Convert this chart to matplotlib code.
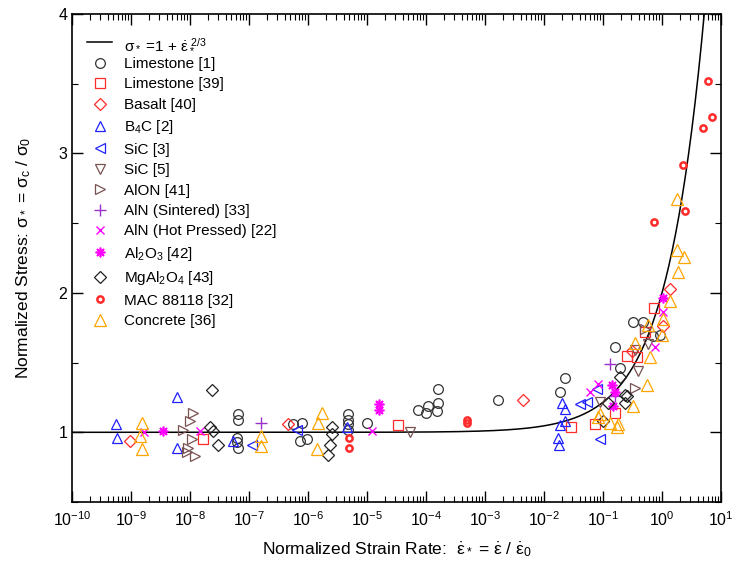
import numpy as np
import matplotlib
matplotlib.use("Agg")
import matplotlib.pyplot as plt
from matplotlib.ticker import LogLocator, NullFormatter, MultipleLocator

plt.rcParams["font.family"] = ["Liberation Sans", "DejaVu Sans"]
plt.rcParams["mathtext.fontset"] = "custom"
plt.rcParams["mathtext.rm"] = "Liberation Sans"
plt.rcParams["mathtext.it"] = "Liberation Sans"
plt.rcParams["mathtext.bf"] = "Liberation Sans:bold"

# data: log10 of normalized strain rate, normalized stress
limestone1_logx = [-7.19, -7.19, -7.20, -7.20, -7.19, -6.25, -6.10, -6.14, -6.02, -5.32, -5.32,
                   -5.32, -5.32, -5.0, -3.80, -3.80, -4.14, -3.97, -4.0, -3.81, -2.78, -1.64,
                   -1.73, -0.49, -0.32, -0.80, -0.15, -0.03, -0.71]
limestone1_y = [1.13, 1.09, 0.96, 0.93, 0.89, 1.06, 1.07, 0.94, 0.95, 1.13, 1.09,
                1.06, 1.02, 1.07, 1.31, 1.21, 1.16, 1.19, 1.14, 1.15, 1.23, 1.39,
                1.29, 1.79, 1.79, 1.61, 1.69, 1.70, 1.46]

limestone39_logx = [-7.78, -4.47, -1.54, -1.14, -0.80, -0.14, -0.29, -0.42, -0.59]
limestone39_y = [0.95, 1.05, 1.04, 1.06, 1.14, 1.89, 1.72, 1.54, 1.55]

basalt_logx = [-9.02, -6.34, -2.36, 0.14, 0.02, -0.51]
basalt_y = [0.94, 1.06, 1.23, 2.03, 1.76, 1.58]

b4c_logx = [-9.26, -9.24, -8.22, -8.22, -7.27, -5.34, -1.69, -1.64, -1.64, -1.73, -1.76, -1.75]
b4c_y = [1.06, 0.96, 1.25, 0.89, 0.94, 1.04, 1.21, 1.17, 1.08, 1.05, 0.96, 0.91]

sic3_logx = [-6.95, -6.19, -1.39, -1.27, -1.10, -1.05]
sic3_y = [0.91, 1.02, 1.20, 1.22, 1.31, 0.95]

sic5_logx = [-4.27, -1.05, -0.41, -0.46, -0.24]
sic5_y = [1.00, 1.22, 1.44, 1.59, 1.63]

alon_logx = [-7.95, -8.0, -8.12, -7.97, -8.03, -8.05, -7.92, -0.46, -0.29]
alon_y = [1.14, 1.08, 1.02, 0.95, 0.89, 0.86, 0.83, 1.32, 1.74]

aln_sint_logx = [-6.80, -0.80, -0.88]
aln_sint_y = [1.07, 1.26, 1.49]

aln_hp_logx = [-8.78, -7.83, -4.92, -1.22, -1.08, -0.12, 0.02]
aln_hp_y = [1.00, 1.01, 1.01, 1.29, 1.35, 1.61, 1.86]

al2o3_logx = [-8.46, -4.80, -4.80, -0.85, -0.83, 0.02, -0.80]
al2o3_y = [1.01, 1.20, 1.16, 1.34, 1.19, 1.96, 1.29]

mgal2o4_logx = [-7.63, -7.66, -7.61, -7.53, -5.59, -5.59, -5.63, -5.66, -0.92, -0.63,
                -0.63, -1.0, -0.59, -0.71]
mgal2o4_y = [1.30, 1.04, 1.01, 0.91, 1.04, 0.99, 0.91, 0.84, 1.21, 1.27,
             1.21, 1.08, 1.26, 1.40]

mac_logx = [-5.31, -5.31, -3.31, -3.31, 0.78, 0.85, 0.69, 0.36, 0.39, -0.14]
mac_y = [0.96, 0.89, 1.09, 1.07, 3.52, 3.26, 3.18, 2.92, 2.59, 2.51]

concrete_logx = [-8.81, -8.85, -8.81, -6.80, -6.80, -5.77, -5.83, -5.84, -0.25, -0.49,
                 -0.76, -0.88, -1.08, 0.25, 0.37, 0.27, 0.14, 0.02, 0.0, -0.24, -0.46,
                 -0.20, 0.25, -1.05, -0.75]
concrete_y = [1.07, 0.97, 0.88, 0.97, 0.90, 1.14, 1.07, 0.88, 1.34, 1.19,
              1.04, 1.07, 1.11, 2.31, 2.26, 2.15, 1.94, 1.81, 1.70, 1.77, 1.64,
              1.54, 2.67, 1.13, 1.06]

asterisk = (8, 2, 0)

series = [
    ("Limestone [1]", limestone1_logx, limestone1_y, "o", "#333333", 7, 0.9),
    ("Limestone [39]", limestone39_logx, limestone39_y, "s", "#ff2a2a", 6.5, 0.9),
    ("Basalt [40]", basalt_logx, basalt_y, "D", "#ff2a2a", 6.5, 0.9),
    ("B$_4$C [2]", b4c_logx, b4c_y, "^", "#2020ff", 7, 0.9),
    ("SiC [3]", sic3_logx, sic3_y, "<", "#2020ff", 7, 0.9),
    ("SiC [5]", sic5_logx, sic5_y, "v", "#7a5252", 7, 0.9),
    ("AlON [41]", alon_logx, alon_y, ">", "#7a5252", 7, 0.9),
    ("AlN (Sintered) [33]", aln_sint_logx, aln_sint_y, "+", "#9933cc", 8, 1.0),
    ("AlN (Hot Pressed) [22]", aln_hp_logx, aln_hp_y, "x", "#ff00ff", 6, 1.0),
    ("Al$_2$O$_3$ [42]", al2o3_logx, al2o3_y, asterisk, "#ff00ff", 7, 1.2),
    ("MgAl$_2$O$_4$ [43]", mgal2o4_logx, mgal2o4_y, "D", "#222222", 6.5, 0.9),
    ("MAC 88118 [32]", mac_logx, mac_y, "o", "#ff2a2a", 4.5, 1.8),
    ("Concrete [36]", concrete_logx, concrete_y, "^", "#ffa500", 8, 0.9),
]

fig = plt.figure(figsize=(7.34, 5.67), dpi=100)
ax = fig.add_axes([0.0981, 0.1146, 0.8842, 0.8607])

eps = np.logspace(-10, 1, 600)
ax.plot(eps, 1 + eps ** (2 / 3), color="black", lw=1.1,
        label=r"$\sigma_*$ =1 + $\dot{\varepsilon}_*^{\ 2/3}$")

for name, lx, yv, mk, col, ms, mew in series:
    x = 10.0 ** np.array(lx)
    if mk in ("+", "x", asterisk):
        ax.plot(x, yv, ls="none", marker=mk, color=col, ms=ms, mew=mew, label=name)
    else:
        ax.plot(x, yv, ls="none", marker=mk, mfc="none", mec=col, ms=ms, mew=mew, label=name)

ax.set_xscale("log")
ax.set_xlim(1e-10, 1e1)
ax.set_ylim(0.5, 4)
ax.xaxis.set_major_locator(LogLocator(base=10, numticks=20))
ax.xaxis.set_minor_locator(LogLocator(base=10, subs=np.arange(2, 10), numticks=200))
ax.xaxis.set_minor_formatter(NullFormatter())
ax.yaxis.set_major_locator(MultipleLocator(1))
ax.yaxis.set_minor_locator(MultipleLocator(0.5))
ax.tick_params(which="both", direction="in", top=True, right=True, labelsize=11.5)
ax.tick_params(which="major", length=8, width=1)
ax.tick_params(which="minor", length=4, width=0.8)
ax.tick_params(axis="x", pad=6)
for s in ax.spines.values():
    s.set_linewidth(1.2)

ax.set_xlabel(r"Normalized Strain Rate:  $\dot{\varepsilon}_*$ = $\dot{\varepsilon}$ / $\dot{\varepsilon}_0$",
              fontsize=12.5, labelpad=8)
ax.set_ylabel(r"Normalized Stress: $\sigma_*$ = $\sigma_c$ / $\sigma_0$", fontsize=12.5, labelpad=18)

ax.legend(loc="upper left", bbox_to_anchor=(0.0, 0.985), frameon=False, fontsize=11,
          labelspacing=0.42, handlelength=1.6, handletextpad=0.8, borderaxespad=0.6,
          numpoints=1)

fig.savefig("out.png", dpi=100)
